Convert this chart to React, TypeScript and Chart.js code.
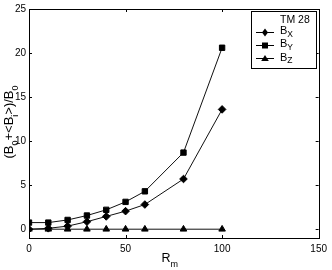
import { useEffect, useRef } from "react";
import { Chart, registerables } from "chart.js";

Chart.register(...registerables);

const xValues = [0, 10, 20, 30, 40, 50, 60, 80, 100];
const bxValues = [0.0, 0.1, 0.35, 0.85, 1.45, 2.05, 2.8, 5.7, 13.6];
const byValues = [0.75, 0.75, 1.05, 1.55, 2.2, 3.1, 4.3, 8.7, 20.6];
const bzValues = [0, 0, 0, 0, 0, 0, 0, 0, 0];
const xTicks = [0, 50, 100, 150];
const yTicks = [0, 5, 10, 15, 20, 25];
const legendTitle = "TM 28";
const seriesNames = ["B", "B", "B"];
const seriesSubs = ["X", "Y", "Z"];
const pointStyles = ["rectRot", "rect", "triangle"];

const FONT = "'Liberation Sans', Arial, Helvetica, sans-serif";

type Part = { t: string; sub?: boolean };

function drawRich(ctx: CanvasRenderingContext2D, parts: Part[], x: number, y: number, size: number, subSize: number, subShift: number) {
  let cx = x;
  for (const p of parts) {
    const s = p.sub ? subSize : size;
    ctx.font = `${s}px ${FONT}`;
    ctx.fillText(p.t, cx, p.sub ? y + subShift : y);
    cx += ctx.measureText(p.t).width;
  }
  return cx - x;
}

function measureRich(ctx: CanvasRenderingContext2D, parts: Part[], size: number, subSize: number) {
  let w = 0;
  for (const p of parts) {
    ctx.font = `${p.sub ? subSize : size}px ${FONT}`;
    w += ctx.measureText(p.t).width;
  }
  return w;
}

function drawMarker(ctx: CanvasRenderingContext2D, style: string, x: number, y: number) {
  ctx.beginPath();
  if (style === "rectRot") {
    ctx.moveTo(x, y - 4);
    ctx.lineTo(x + 3, y);
    ctx.lineTo(x, y + 4);
    ctx.lineTo(x - 3, y);
  } else if (style === "rect") {
    ctx.rect(x - 3, y - 3, 6, 6);
  } else {
    ctx.moveTo(x, y - 3.5);
    ctx.lineTo(x + 3.8, y + 2.5);
    ctx.lineTo(x - 3.8, y + 2.5);
  }
  ctx.closePath();
  ctx.fill();
}

const framePlugin = {
  id: "matlabFrame",
  afterDraw(chart: any) {
    const ctx: CanvasRenderingContext2D = chart.ctx;
    const { left, right, top, bottom } = chart.chartArea;
    const xs = chart.scales.x;
    const ys = chart.scales.y;
    ctx.save();
    ctx.strokeStyle = "#000";
    ctx.lineWidth = 1;
    // box
    ctx.strokeRect(Math.round(left) + 0.5, Math.round(top) + 0.5, Math.round(right - left), Math.round(bottom - top));
    // inward ticks
    const tl = 3;
    ctx.beginPath();
    for (const v of xTicks) {
      const px = Math.round(xs.getPixelForValue(v)) + 0.5;
      ctx.moveTo(px, bottom);
      ctx.lineTo(px, bottom - tl);
      ctx.moveTo(px, top);
      ctx.lineTo(px, top + tl);
    }
    for (const v of yTicks) {
      const py = Math.round(ys.getPixelForValue(v)) + 0.5;
      ctx.moveTo(left, py);
      ctx.lineTo(left + tl, py);
      ctx.moveTo(right, py);
      ctx.lineTo(right - tl, py);
    }
    ctx.stroke();

    // y axis title
    ctx.fillStyle = "#000";
    ctx.textBaseline = "alphabetic";
    ctx.textAlign = "left";
    const yParts: Part[] = [
      { t: "(B" }, { t: "0", sub: true }, { t: "+<B" }, { t: "i", sub: true }, { t: ">)/B" }, { t: "0", sub: true },
    ];
    const yw = measureRich(ctx, yParts, 13, 9);
    ctx.save();
    ctx.translate(13, 122);
    ctx.rotate(-Math.PI / 2);
    drawRich(ctx, yParts, -yw / 2, 0, 13, 9, 5);
    ctx.restore();

    // x axis title
    const xParts: Part[] = [{ t: "R" }, { t: "m", sub: true }];
    const xw = measureRich(ctx, xParts, 12.5, 9);
    drawRich(ctx, xParts, (left + right) / 2 - 4 - xw / 2, 262, 12.5, 9, 5);

    // legend
    const bw = 65, bh = 57;
    const bx = Math.round(right) - 3 - bw;
    const by = Math.round(top) + 2;
    ctx.fillStyle = "#fff";
    ctx.fillRect(bx, by, bw, bh);
    ctx.strokeRect(bx + 0.5, by + 0.5, bw, bh);
    ctx.fillStyle = "#000";
    ctx.font = `10.5px ${FONT}`;
    ctx.fillText(legendTitle, bx + 29, by + 12);
    for (let i = 0; i < seriesNames.length; i++) {
      const baseY = by + 23 + i * 13.4;
      const ly = baseY - 2.5;
      ctx.beginPath();
      ctx.moveTo(bx + 5, Math.round(ly) + 0.5);
      ctx.lineTo(bx + 23, Math.round(ly) + 0.5);
      ctx.stroke();
      drawMarker(ctx, pointStyles[i], bx + 14, Math.round(ly) + 0.5);
      drawRich(ctx, [{ t: seriesNames[i] }, { t: seriesSubs[i], sub: true }], bx + 29, baseY, 11, 8.5, 2.5);
    }
    ctx.restore();
  },
};

function makeData(vals: number[]) {
  return xValues.map((x, i) => ({ x, y: vals[i] }));
}

export default function App() {
  const ref = useRef<HTMLCanvasElement | null>(null);
  useEffect(() => {
    if (!ref.current) return;
    const common = {
      borderColor: "#111",
      backgroundColor: "#000",
      pointBackgroundColor: "#000",
      pointBorderColor: "#000",
      borderWidth: 1,
      pointBorderWidth: 1,
      tension: 0,
    };
    const chart = new Chart(ref.current, {
      type: "line",
      data: {
        datasets: [
          { ...common, label: "BX", data: makeData(bxValues), pointStyle: "rectRot", pointRadius: 3.8 },
          { ...common, label: "BY", data: makeData(byValues), pointStyle: "rect", pointRadius: 3.8 },
          { ...common, label: "BZ", data: makeData(bzValues), pointStyle: "triangle", pointRadius: 3.8 },
        ],
      },
      options: {
        animation: false,
        responsive: false,
        devicePixelRatio: 1,
        layout: { padding: { top: 9, right: 11, left: 0, bottom: 0 } },
        plugins: { legend: { display: false }, tooltip: { enabled: false } },
        scales: {
          x: {
            type: "linear",
            min: 0,
            max: 150,
            grid: { display: false, drawTicks: false },
            border: { display: false },
            ticks: { font: { size: 10, family: FONT }, color: "#000", padding: 5, maxRotation: 0 },
            afterBuildTicks: (s: any) => { s.ticks = xTicks.map((v) => ({ value: v })); },
            afterFit: (s: any) => { s.height = 32; },
          },
          y: {
            type: "linear",
            min: -1,
            max: 25,
            grid: { display: false, drawTicks: false },
            border: { display: false },
            ticks: { font: { size: 10, family: FONT }, color: "#000", padding: 3 },
            afterBuildTicks: (s: any) => { s.ticks = yTicks.map((v) => ({ value: v })); },
            afterFit: (s: any) => { s.width = 29; },
          },
        },
      },
      plugins: [framePlugin],
    } as any);
    return () => chart.destroy();
  }, []);
  return (
    <div style={{ position: "absolute", left: 0, top: 0, width: 332, height: 270, background: "#fff" }}>
      <canvas ref={ref} width={332} height={270} style={{ display: "block" }} />
    </div>
  );
}
